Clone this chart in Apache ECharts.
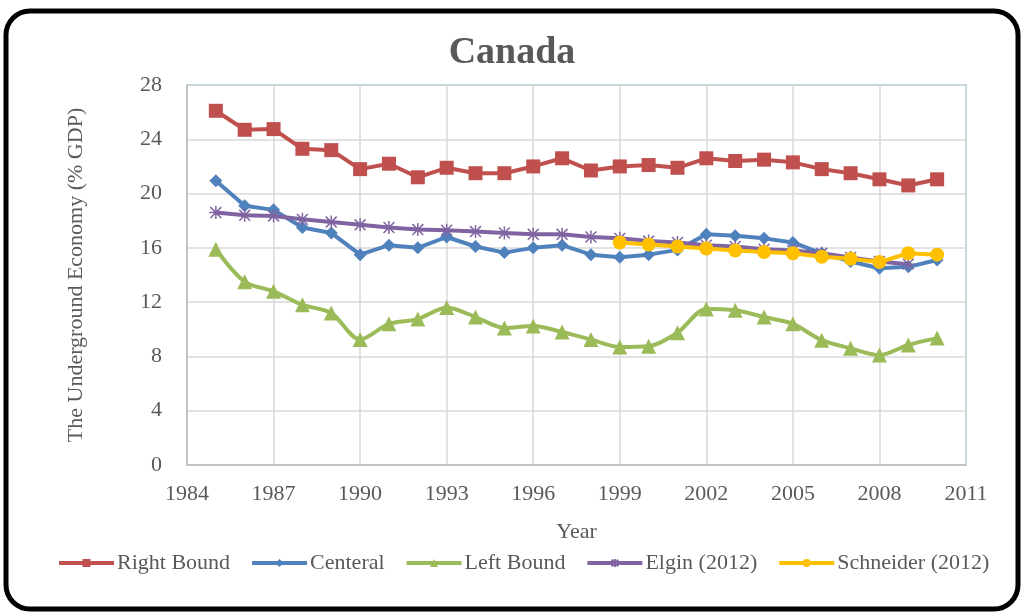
<!DOCTYPE html>
<html>
<head>
<meta charset="utf-8">
<script src="https://cdn.jsdelivr.net/npm/echarts@6/dist/echarts.min.js"></script>
<style>
html,body{margin:0;padding:0;background:#fff;}
#chart{width:1024px;height:615px;}
</style>
</head>
<body>
<div id="chart"></div>
<script>
const years = [1985,1986,1987,1988,1989,1990,1991,1992,1993,1994,1995,1996,1997,1998,1999,2000,2001,2002,2003,2004,2005,2006,2007,2008,2009,2010];
const rightBound = [26.1,24.7,24.75,23.3,23.2,21.8,22.2,21.2,21.9,21.5,21.5,22.0,22.6,21.7,22.0,22.1,21.9,22.6,22.4,22.5,22.3,21.8,21.5,21.05,20.6,21.05];
const centeral = [20.95,19.1,18.8,17.5,17.1,15.5,16.2,16.0,16.8,16.1,15.65,16.0,16.2,15.5,15.3,15.5,15.85,17.0,16.9,16.7,16.4,15.6,15.0,14.5,14.6,15.1];
const leftBound = [15.9,13.5,12.8,11.8,11.2,9.25,10.4,10.75,11.6,10.9,10.1,10.25,9.8,9.25,8.7,8.75,9.75,11.5,11.4,10.9,10.4,9.2,8.6,8.1,8.85,9.35];
const elginYears = [1985,1986,1987,1988,1989,1990,1991,1992,1993,1994,1995,1996,1997,1998,1999,2000,2001,2002,2003,2004,2005,2006,2007,2008,2009];
const elgin = [18.6,18.4,18.35,18.1,17.9,17.7,17.5,17.35,17.3,17.2,17.1,17.0,17.0,16.8,16.7,16.5,16.4,16.2,16.1,15.9,15.8,15.6,15.3,15.0,14.8];
const schneiderYears = [1999,2000,2001,2002,2003,2004,2005,2006,2007,2008,2009,2010];
const schneider = [16.4,16.25,16.1,15.95,15.8,15.7,15.6,15.35,15.2,14.95,15.6,15.5];

const seriesNames = ['Right Bound','Centeral','Left Bound','Elgin (2012)','Schneider (2012)'];
const colors = ['#C0504D','#4F81BD','#9BBB59','#8064A2','#FFC000'];

function pairs(xs, ys){ return xs.map((x,i)=>[x, ys[i]]); }

const FONT = '"Liberation Serif", "Times New Roman", serif';
const TXT = '#595959';
const star = 'path://M0,0L10,10M10,0L0,10M5,-1L5,11M-1,5L11,5';

const chart = echarts.init(document.getElementById('chart'));
chart.setOption({
  backgroundColor: '#fff',
  animation: false,
  title: {
    text: 'Canada', left: 'center', top: 29,
    textStyle: {fontFamily: FONT, fontSize: 38, fontWeight: 'bold', color: TXT}
  },
  graphic: [{
    type: 'rect', shape: {x: 6, y: 11, width: 1012, height: 598, r: 24},
    style: {fill: 'none', stroke: '#000', lineWidth: 5}, z: 100
  }],
  legend: {
    data: seriesNames, left: 52, top: 547,
    itemWidth: 55, itemHeight: 10, itemGap: 20,
    lineStyle: {width: 4},
    textStyle: {fontFamily: FONT, fontSize: 22, color: TXT, padding: [0,0,0,-2]}
  },
  grid: {left: 187, right: 58, top: 85, bottom: 150, show: true, borderColor: '#6EC6DC', borderWidth: 1.5},
  xAxis: {
    type: 'value', min: 1984, max: 2011, interval: 3,
    name: 'Year', nameLocation: 'middle', nameGap: 56,
    nameTextStyle: {fontFamily: FONT, fontSize: 22, color: TXT},
    axisLine: {show: true, lineStyle: {color: '#BFBFBF', width: 1.5}},
    axisTick: {show: false},
    axisLabel: {fontFamily: FONT, fontSize: 22, color: TXT, margin: 18, formatter: v => String(v)},
    splitLine: {show: true, lineStyle: {color: '#D9D9D9', width: 1.5}}
  },
  yAxis: {
    type: 'value', min: 0, max: 28, interval: 4,
    name: 'The Underground Economy (% GDP)', nameLocation: 'middle', nameGap: 100,
    nameTextStyle: {fontFamily: FONT, fontSize: 22, color: TXT},
    axisLine: {show: true, lineStyle: {color: '#BFBFBF', width: 1.5}},
    axisTick: {show: false},
    axisLabel: {fontFamily: FONT, fontSize: 22, color: TXT, margin: 25},
    splitLine: {show: true, lineStyle: {color: '#D9D9D9', width: 1.5}}
  },
  series: [
    {name: seriesNames[0], type: 'line', data: pairs(years, rightBound), color: colors[0],
     symbol: 'rect', symbolSize: 14, lineStyle: {width: 4}},
    {name: seriesNames[1], type: 'line', data: pairs(years, centeral), color: colors[1],
     symbol: 'diamond', symbolSize: 13, lineStyle: {width: 4}},
    {name: seriesNames[2], type: 'line', data: pairs(years, leftBound), color: colors[2], smooth: 0.3,
     symbol: 'triangle', symbolSize: 15, lineStyle: {width: 4}},
    {name: seriesNames[3], type: 'line', data: pairs(elginYears, elgin), color: colors[3],
     symbol: star, symbolSize: 13, itemStyle: {borderColor: colors[3], borderWidth: 1.5}, lineStyle: {width: 4}},
    {name: seriesNames[4], type: 'line', data: pairs(schneiderYears, schneider), color: colors[4],
     symbol: 'circle', symbolSize: 14, lineStyle: {width: 4}}
  ]
});
</script>
</body>
</html>
